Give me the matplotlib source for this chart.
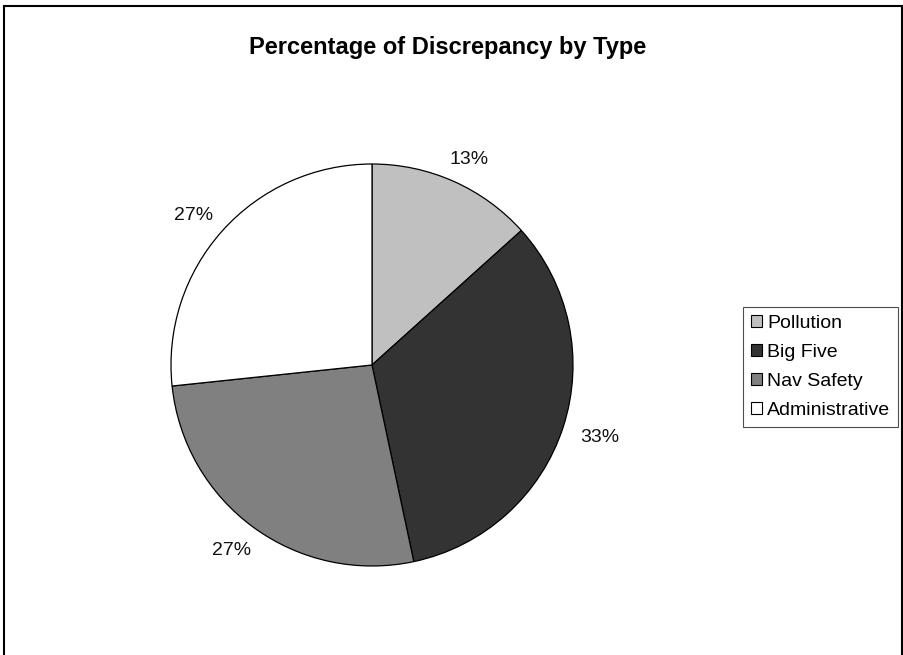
import matplotlib.pyplot as plt
from matplotlib.patches import Rectangle, Patch
import numpy as np

plt.rcParams['font.family'] = ['Liberation Sans', 'DejaVu Sans']

# discrepancy counts by type
categories = ["Pollution", "Big Five", "Nav Safety", "Administrative"]
counts = [2, 5, 4, 4]
colors = ["#c0c0c0", "#333333", "#808080", "#ffffff"]

W, H = 904, 655
fig = plt.figure(figsize=(W / 100, H / 100), dpi=100)

# pie axes: centre ~(372, 365) px, radius ~201 px
cx, cy, r = 372, 365, 201
ax = fig.add_axes([(cx - r) / W, (H - cy - r) / H, 2 * r / W, 2 * r / H])

label_size = 14
wedges, texts, autotexts = ax.pie(
    counts,
    colors=colors,
    startangle=90,
    counterclock=False,
    autopct="%1.0f%%",
    wedgeprops=dict(edgecolor="black", linewidth=0.9),
    textprops=dict(fontsize=label_size, color="#111111"),
)
ax.set_xlim(-1, 1)
ax.set_ylim(-1, 1)
ax.set_aspect("equal")

# excel style: label pushed outward along the bisector by half its size
fig.canvas.draw()
renderer = fig.canvas.get_renderer()
cap_h = 0.72 * label_size * fig.dpi / 72
for w, t in zip(wedges, autotexts):
    ang = np.deg2rad((w.theta1 + w.theta2) / 2)
    dx, dy = np.cos(ang), np.sin(ang)
    tw = t.get_window_extent(renderer).width
    x = 1.095 * dx + (tw / 2) * dx / r
    y = 1.095 * dy + (cap_h / 2) * dy / r
    t.set_position((x, y))
    t.set_ha("center")
    t.set_va("center_baseline")
    t.set_clip_on(False)

fig.text(448 / W, 1 - 54 / H, "Percentage of Discrepancy by Type",
         ha="center", va="baseline", fontsize=17, fontweight="bold")

handles = [Patch(facecolor=c, edgecolor="black", linewidth=0.8) for c in colors]
leg = fig.legend(handles, categories, loc="upper left",
                 bbox_to_anchor=(743 / W, 1 - 307 / H),
                 bbox_transform=fig.transFigure, borderaxespad=0,
                 fontsize=14, fancybox=False, frameon=True,
                 handlelength=0.6, handleheight=0.6, handletextpad=0.25,
                 labelspacing=0.62, borderpad=0.4)
leg.get_frame().set_edgecolor("#222222")
leg.get_frame().set_linewidth(0.8)

# outer chart frame (bottom edge falls outside the image)
frame = Rectangle((4.5 / W, -0.05), (902 - 4.5) / W, 1 - 6 / H + 0.05,
                  transform=fig.transFigure, fill=False,
                  edgecolor="black", linewidth=1.5)
fig.add_artist(frame)

fig.savefig("out.png", dpi=100)
